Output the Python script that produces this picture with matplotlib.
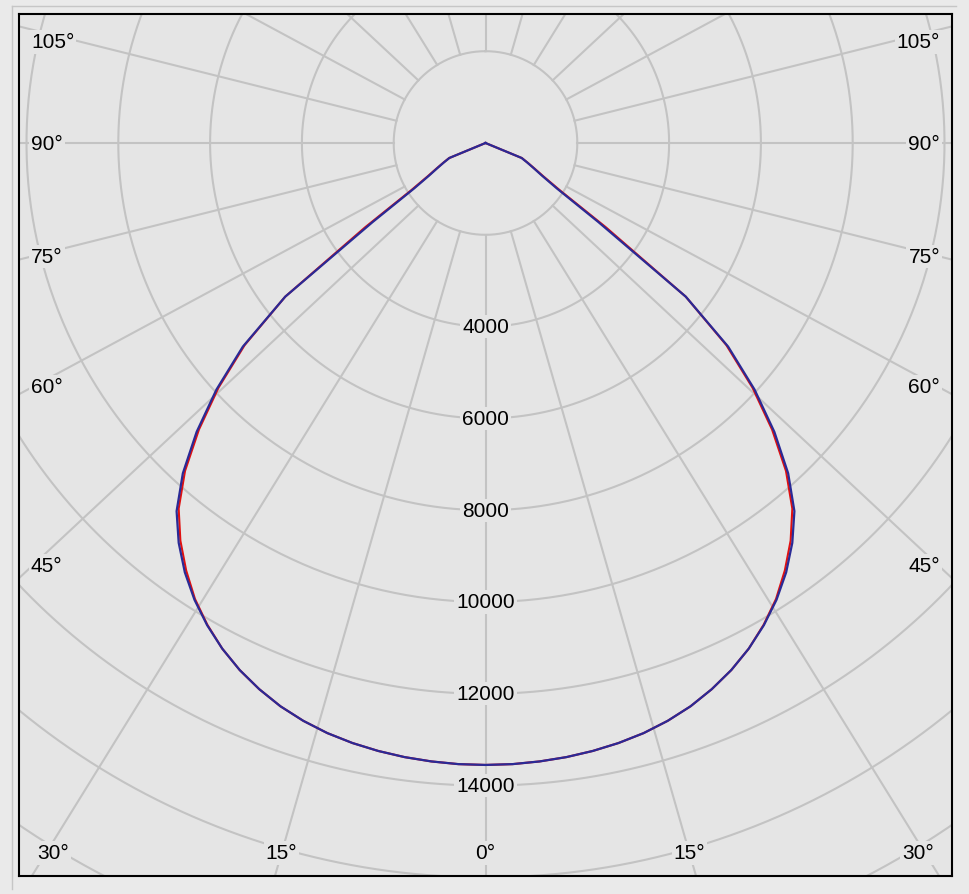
import numpy as np
import matplotlib.pyplot as plt

# polar intensity diagram, gamma measured from nadir (deg), intensity in cd
gamma = [0, 2.5, 5, 7.5, 10, 12.5, 15, 17.5, 20, 22.5, 25, 27.5, 30, 32.5, 35, 37.5, 40,
         42.5, 45, 47.5, 50, 52.5, 55, 57.5, 60, 62.5, 65, 67.5, 70, 90, 180]
blue_cd = [13550, 13545, 13525, 13495, 13450, 13390, 13310, 13200, 13060, 12880, 12670, 12420, 12130,
           11800, 11420, 10980, 10470, 9760, 8900, 7950, 6900, 5500, 3000, 1850, 1420, 1180, 1000, 850, 0, 0, 0]
red_cd = [13550, 13545, 13525, 13495, 13450, 13390, 13310, 13200, 13060, 12880, 12670, 12420, 12120,
          11780, 11370, 10920, 10400, 9690, 8830, 7890, 6850, 5500, 3200, 1930, 1460, 1200, 1010, 860, 0, 0, 0]

ring_values = [2000, 4000, 6000, 8000, 10000, 12000, 14000, 16000, 18000, 20000, 22000]
ring_labels = [4000, 6000, 8000, 10000, 12000, 14000]
spoke_angles = list(range(0, 360, 15))
side_labels = [105, 90, 75, 60, 45]
bottom_labels = [-30, -15, 0, 15, 30]

W, H = 969, 895
S = 0.0459          # px per cd
CX, CY = 485.5, 144  # centre in image pixels
K = 1.072           # horizontal stretch the spokes are drawn with
BG = '#e5e5e5'
GRID = '#c3c3c3'

def px(xp, yp):
    return (xp - CX) / S, (CY - yp) / S

fig = plt.figure(figsize=(W / 100, H / 100), dpi=100)
fig.patch.set_facecolor('#eaeaea')
# thin panel border of the screenshot
fig.add_artist(plt.Line2D([12 / W, 12 / W], [1 - 7 / H, 1 - 890 / H], color='#c6c6c6', lw=1))
fig.add_artist(plt.Line2D([12 / W, 956 / W], [1 - 7 / H, 1 - 7 / H], color='#c6c6c6', lw=1))

ax = fig.add_axes([19 / W, 1 - 877 / H, 933 / W, 862 / H])
ax.set_facecolor(BG)
x0, y0 = px(19, 877)
x1, y1 = px(952, 15)
ax.set_xlim(x0, x1)
ax.set_ylim(y0, y1)
ax.set_xticks([])
ax.set_yticks([])
for sp in ax.spines.values():
    sp.set_color('black')
    sp.set_linewidth(1.5)
    sp.set_zorder(10)

t = np.linspace(0, 2 * np.pi, 721)
for r in ring_values:
    ax.plot(r * np.sin(t), r * np.cos(t), color=GRID, lw=1.5, zorder=1)

for a in spoke_angles:
    g = np.radians(a)
    d = np.array([K * np.sin(g), -np.cos(g)])
    d = d / np.hypot(*d)
    ax.plot([2000 * d[0], 40000 * d[0]], [2000 * d[1], 40000 * d[1]], color=GRID, lw=1.5, zorder=1)

# intensity curves, mirrored to both sides
def curve(vals):
    g = np.radians(np.array(gamma, dtype=float))
    v = np.array(vals, dtype=float)
    gg = np.concatenate([-g[::-1], g[1:]])
    vv = np.concatenate([v[::-1], v[1:]])
    return vv * np.sin(gg), -vv * np.cos(gg)

xr, yr = curve(red_cd)
xb, yb = curve(blue_cd)
ax.plot(xr, yr, color='#e01010', lw=1.5, zorder=4)
ax.plot(xb, yb, color='#2a2a96', lw=1.6, zorder=5)

font = dict(family='Liberation Sans', size=15, color='black', zorder=6)
box = dict(facecolor=BG, edgecolor='none', pad=1.5)

for v in ring_labels:
    ax.text(0, -v, str(v), ha='center', va='center', bbox=box, **font)

for a in side_labels:
    dy = 422.5 / np.tan(np.radians(a)) if a != 90 else 0.0
    yp = max(CY + dy, 43)
    xl, yl = px(31, yp)
    xr_, _ = px(940, yp)
    ax.text(xl, yl, f'{a}°', ha='left', va='center', bbox=box, **font)
    ax.text(xr_, yl, f'{a}°', ha='right', va='center', bbox=box, **font)

for a in bottom_labels:
    off = min(710 * K * np.tan(np.radians(abs(a))), 432.5)
    xp = CX + np.sign(a) * off
    xl, yl = px(xp, 854)
    ax.text(xl, yl, f'{abs(a)}°', ha='center', va='center', bbox=box, **font)

fig.savefig('out.png', dpi=100, facecolor=fig.get_facecolor())
